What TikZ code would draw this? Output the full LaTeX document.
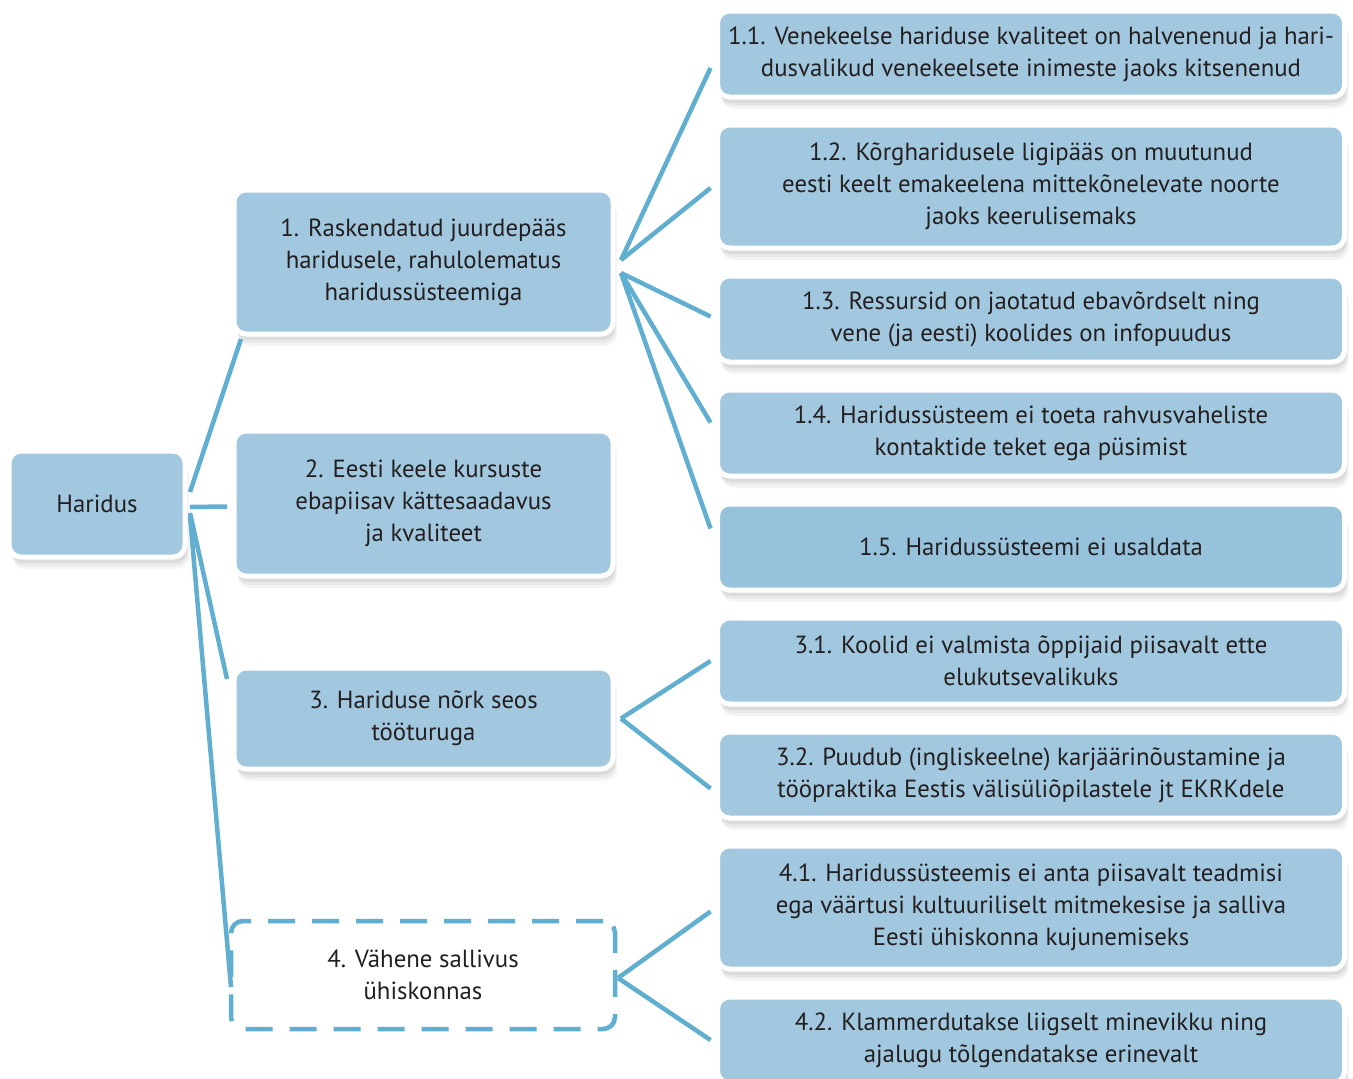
\documentclass[tikz,border=0pt]{standalone}
\usepackage{fontspec}
\setmainfont{PT Sans}
\usetikzlibrary{positioning, shadows}
\definecolor{boxblue}{RGB}{161,200,223}
\definecolor{boxblueb}{RGB}{150,194,220}
\definecolor{linkblue}{RGB}{96,174,208}
\definecolor{textgrey}{RGB}{35,31,32}
\tikzset{
	basebox/.style={
	rectangle, rounded corners=12pt, align=center, inner sep=0pt, outer sep=0pt,
	text=textgrey, font=\fontsize{24.8}{32}\selectfont
	},
	bluebox/.style={
	basebox, fill=boxblue, draw=white, line width=5pt,
	drop shadow={shadow xshift=4pt, shadow yshift=-12pt, opacity=0.04, fill=black},
	drop shadow={shadow xshift=3pt, shadow yshift=-9pt, opacity=0.05, fill=black},
	drop shadow={shadow xshift=2pt, shadow yshift=-6pt, opacity=0.06, fill=black}
	},
	rootbox/.style={bluebox, minimum width=176pt, minimum height=106pt},
	causebox/.style={bluebox, minimum width=379pt, minimum height=#1},
	causebox/.default=144pt,
	subbox/.style={bluebox, minimum width=627pt, minimum height=#1},
	subbox/.default=86pt,
	openbox/.style={basebox, fill=white, draw=linkblue, line width=4.5pt, dash pattern=on 27pt off 17pt,
	minimum width=384pt, minimum height=108pt},
	link/.style={draw=linkblue, line width=4.5pt},
}

\begin{document}
\begin{tikzpicture}[x=1pt, y=-1pt, node distance=28pt]
			\useasboundingbox (0,0) rectangle (1353,1079);

			\node[rootbox] (root) at (97,504) {Haridus};

			\node[causebox] (c1) at (423.5,262) {1. Raskendatud juurdepääs\\haridusele, rahulolematus\\haridussüsteemiga};
			\node[causebox=145pt] (c2) at (423.5,503.5) {2. Eesti keele kursuste\\ebapiisav kättesaadavus\\ja kvaliteet};
			\node[causebox=101pt] (c3) at (423.5,718.5) {3. Hariduse nõrk seos\\tööturuga};
			\node[openbox] (c4) at (423,975) {4. Vähene sallivus\\ühiskonnas};

			\node[subbox] (s11) at (1031,54) {1.1. Venekeelse hariduse kvaliteet on halvenenud ja hari-\\dusvalikud venekeelsete inimeste jaoks kitsenenud};
			\node[subbox=123pt, below=of s11] (s12) {1.2. Kõrgharidusele ligipääs on muutunud\\eesti keelt emakeelena mittekõnelevate noorte\\jaoks keerulisemaks};
			\node[subbox, below=of s12] (s13) {1.3. Ressursid on jaotatud ebavõrdselt ning\\vene (ja eesti) koolides on infopuudus};
			\node[subbox, below=of s13] (s14) {1.4. Haridussüsteem ei toeta rahvusvaheliste\\kontaktide teket ega püsimist};
			\node[subbox, fill=boxblueb, below=of s14] (s15) {1.5. Haridussüsteemi ei usaldata};
			\node[subbox, below=of s15] (s31) {3.1. Koolid ei valmista õppijaid piisavalt ette\\elukutsevalikuks};
			\node[subbox, below=of s31] (s32) {3.2. Puudub (ingliskeelne) karjäärinõustamine ja\\tööpraktika Eestis välisüliõpilastele jt EKRKdele};
			\node[subbox=123pt, below=of s32] (s41) {4.1. Haridussüsteemis ei anta piisavalt teadmisi\\ega väärtusi kultuuriliselt mitmekesise ja salliva\\Eesti ühiskonna kujunemiseks};
			\node[subbox, below=of s41] (s42) {4.2. Klammerdutakse liigselt minevikku ning\\ajalugu tõlgendatakse erinevalt};

			% Haridus -> causes
			\path[link] ([xshift=5pt,yshift=12pt]root.east) -- ([xshift=7pt,yshift=-5pt]c1.south west);
			\path[link] ([xshift=5pt,yshift=-3pt]root.east) -- ([xshift=-7pt,yshift=-3pt]c2.west);
			\path[link] ([xshift=5pt,yshift=-9pt]root.east) -- ([xshift=-7pt,yshift=-11pt]c3.north west);
			\path[link] ([xshift=5pt,yshift=-12pt]root.east) -- ([yshift=-12pt]c4.west);

			% cause 1
			\path[link] ([xshift=8pt,yshift=2pt]c1.east) -- ([xshift=-7pt,yshift=-14pt]s11.west);
			\path[link] ([xshift=8pt,yshift=2pt]c1.east) -- ([xshift=-7pt,yshift=-1.5pt]s12.west);
			\path[link] ([xshift=8pt,yshift=-11pt]c1.east) -- ([xshift=-7pt,yshift=2.5pt]s13.west);
			\path[link] ([xshift=8pt,yshift=-11pt]c1.east) -- ([xshift=-7pt,yshift=10.5pt]s14.west);
			\path[link] ([xshift=8pt,yshift=-11pt]c1.east) -- ([xshift=-7pt,yshift=18.5pt]s15.west);

			% cause 3
			\path[link] ([xshift=8pt]c3.east) -- ([xshift=-7pt]s31.west);
			\path[link] ([xshift=8pt]c3.east) -- ([xshift=-7pt,yshift=-13.5pt]s32.west);

			% cause 4
			\path[link] ([xshift=3pt,yshift=-3pt]c4.east) -- ([xshift=-7pt,yshift=-4pt]s41.west);
			\path[link] ([xshift=3pt,yshift=-3pt]c4.east) -- ([xshift=-7pt]s42.west);
		\end{tikzpicture}
\end{document}
